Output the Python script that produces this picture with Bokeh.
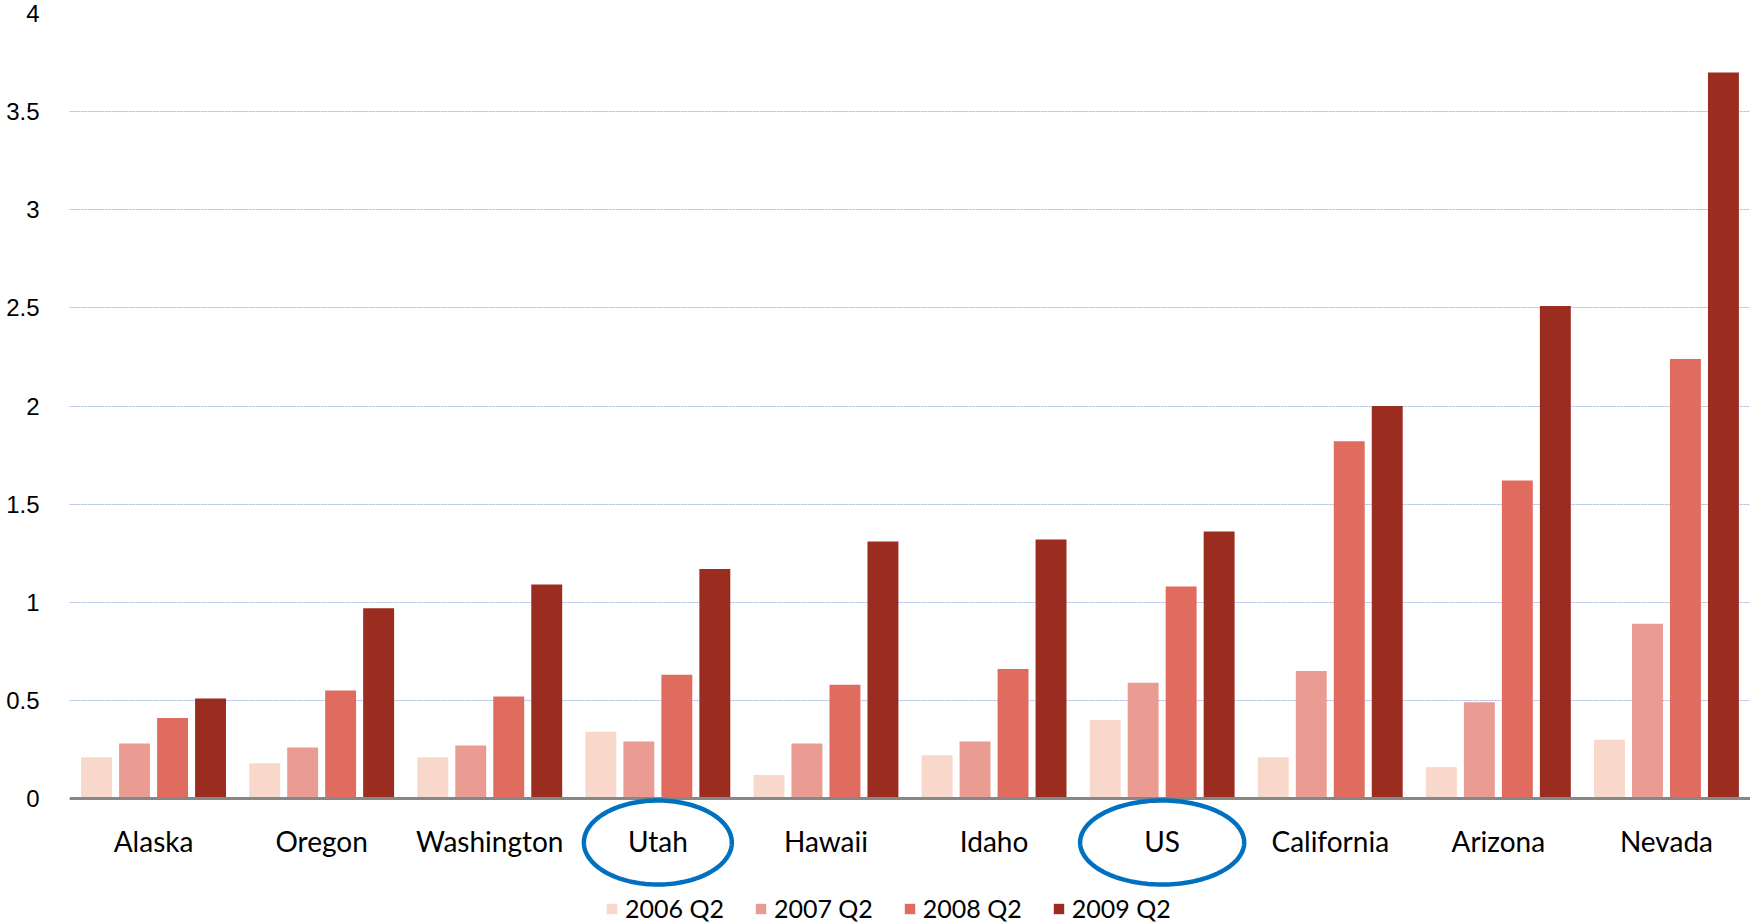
import numpy as np
from bokeh.plotting import figure
from bokeh.models import (ColumnDataSource, FactorRange, Range1d, FixedTicker,
                          Legend, LegendItem, PolyAnnotation)
from bokeh.transform import dodge
from bokeh.embed import file_html
from bokeh.resources import INLINE

# ---------------- data ----------------
states = ["Alaska", "Oregon", "Washington", "Utah", "Hawaii", "Idaho",
          "US", "California", "Arizona", "Nevada"]
q2_2006 = [0.21, 0.18, 0.21, 0.34, 0.12, 0.22, 0.40, 0.21, 0.16, 0.30]
q2_2007 = [0.28, 0.26, 0.27, 0.29, 0.28, 0.29, 0.59, 0.65, 0.49, 0.89]
q2_2008 = [0.41, 0.55, 0.52, 0.63, 0.58, 0.66, 1.08, 1.82, 1.62, 2.24]
q2_2009 = [0.51, 0.97, 1.09, 1.17, 1.31, 1.32, 1.36, 2.00, 2.51, 3.70]
series_names = ["2006 Q2", "2007 Q2", "2008 Q2", "2009 Q2"]
y_ticks = [0, 0.5, 1, 1.5, 2, 2.5, 3, 3.5, 4]
y_tick_labels = ["0", "0.5", "1", "1.5", "2", "2.5", "3", "3.5", "4"]
highlighted = ["Utah", "US"]

# ---------------- styling / layout ----------------
series_colors = ["#F8D8CB", "#EA9C92", "#E06C5F", "#9B2C20"]
offsets = [-0.339, -0.113, 0.113, 0.339]
bar_width = 0.184
fig_w, fig_h = 1750, 923
top_border = 13
px_above_zero = 785          # frame px between y=4 and y=0
px_below_zero = fig_h - top_border - px_above_zero
px_per_unit = px_above_zero / 4.0
y_start = -px_below_zero / px_per_unit
ellipse_half_width = {"Utah": 0.44, "US": 0.488}
ellipse_center_y = -44 / px_per_unit
ellipse_half_height = 42 / px_per_unit
cat_font = "Lato"

src = ColumnDataSource(dict(state=states, s0=q2_2006, s1=q2_2007,
                            s2=q2_2008, s3=q2_2009))

p = figure(x_range=FactorRange(factors=states), y_range=Range1d(y_start, 4),
           width=fig_w, height=fig_h, output_backend="svg",
           toolbar_location=None,
           min_border_left=69, min_border_right=0, min_border_top=top_border,
           min_border_bottom=0)
p.outline_line_color = None
p.background_fill_color = "white"
p.border_fill_color = "white"

renderers = []
for k, col in enumerate(["s0", "s1", "s2", "s3"]):
    r = p.vbar(x=dodge("state", offsets[k], range=p.x_range), top=col,
               width=bar_width, source=src, fill_color=series_colors[k],
               line_color=None)
    renderers.append(r)

# grid
p.xgrid.grid_line_color = None
p.ygrid.ticker = FixedTicker(ticks=y_ticks)
p.ygrid.grid_line_color = "#7F9FD5"
p.ygrid.grid_line_alpha = 0.75
p.ygrid.grid_line_dash = "2 1"
p.ygrid.grid_line_width = 1

# y axis
p.yaxis.ticker = FixedTicker(ticks=y_ticks)
p.yaxis.major_label_overrides = {t: l for t, l in zip(y_ticks, y_tick_labels)}
p.yaxis.axis_line_color = None
p.yaxis.major_tick_line_color = None
p.yaxis.minor_tick_line_color = None
p.yaxis.major_label_standoff = 24
p.yaxis.major_label_text_font = "Liberation Sans"
p.yaxis.major_label_text_font_size = "24px"
p.yaxis.major_label_text_color = "black"

# x axis drawn at y = 0
p.xaxis.fixed_location = 0
p.xaxis.axis_line_color = "#878787"
p.xaxis.axis_line_width = 3
p.xaxis.major_tick_line_color = None
p.xaxis.minor_tick_line_color = None
p.xaxis.major_label_standoff = 19
p.xaxis.major_label_text_font = cat_font
p.xaxis.major_label_text_font_size = "28px"
p.xaxis.major_label_text_color = "black"

# legend
legend = Legend(items=[LegendItem(label=n, renderers=[r])
                       for n, r in zip(series_names, renderers)],
                orientation="horizontal", location=(536, 0),
                glyph_width=13, glyph_height=13, label_standoff=7,
                spacing=30, padding=0, margin=0,
                border_line_color=None, background_fill_alpha=0,
                label_text_font=cat_font, label_text_font_size="25px",
                label_text_color="black")
p.add_layout(legend)

# highlight ellipses around selected categories
theta = np.linspace(0, 2 * np.pi, 160)
for s in highlighted:
    cx = states.index(s) + 0.5
    xs = list(cx + ellipse_half_width[s] * np.cos(theta))
    ys = list(ellipse_center_y + ellipse_half_height * np.sin(theta))
    p.add_layout(PolyAnnotation(xs=xs, ys=ys, fill_alpha=0, fill_color=None,
                                line_color="#0070C0", line_alpha=1.0,
                                line_width=4.5))

open("out.html", "w").write(file_html(p, INLINE))
